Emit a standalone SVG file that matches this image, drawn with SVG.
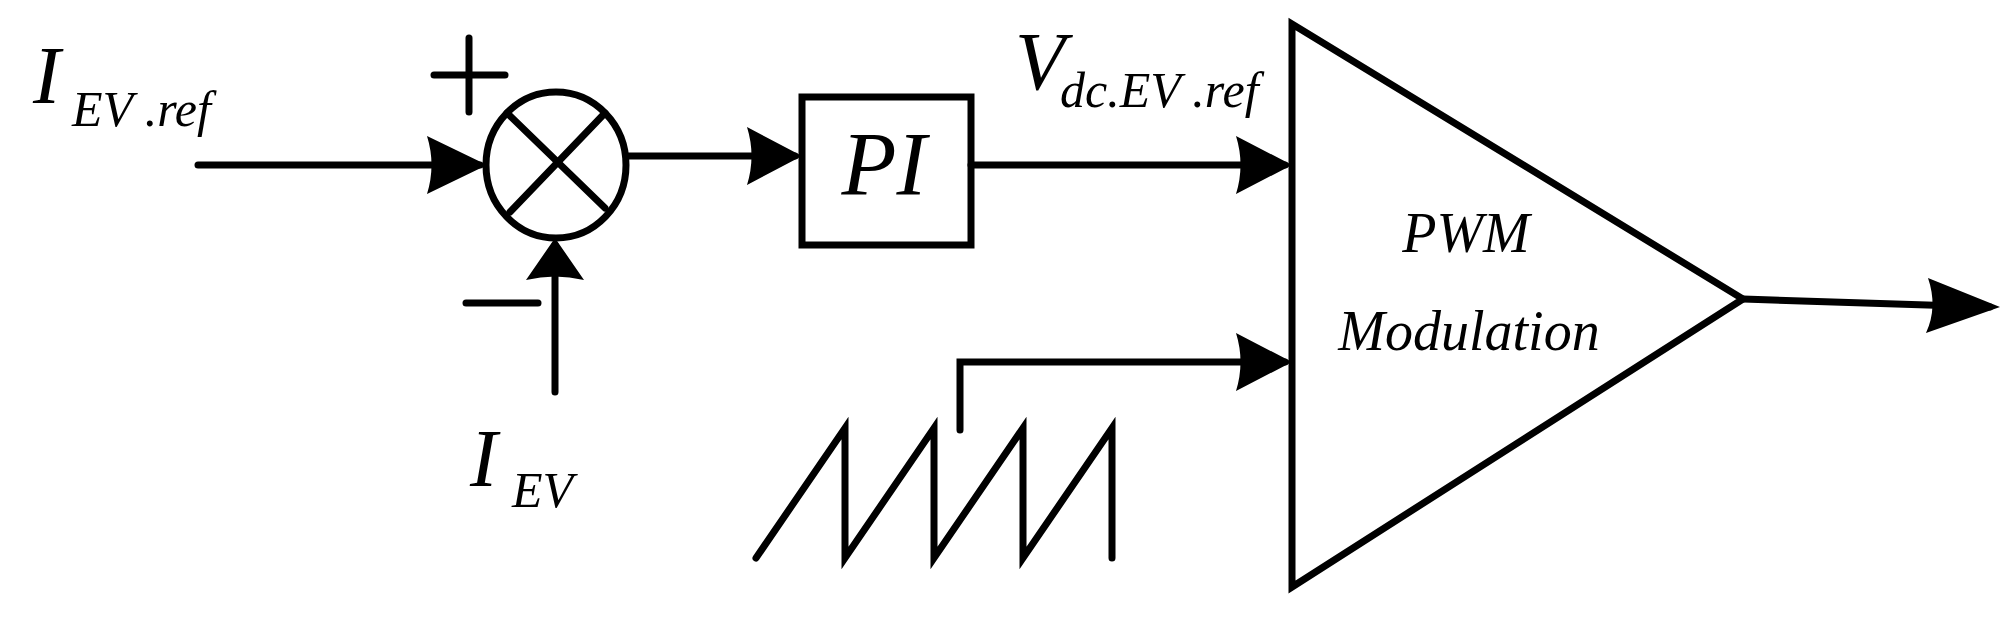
<svg xmlns="http://www.w3.org/2000/svg" width="2015" height="618" viewBox="0 0 2015 618">
<style>
.s{fill:none;stroke:#000;stroke-width:7;stroke-linecap:round;stroke-linejoin:miter}
.a{fill:#000;stroke:none}
.t{font-family:"Liberation Serif",serif;font-style:italic;fill:#000}
</style>
<rect width="2015" height="618" fill="#fff"/>
<g id="connectors">
<line class="s" x1="198" y1="165" x2="480" y2="165"/>
<path class="a" d="M487,165 L427,136 Q436,165 427,194 Z"/>
<line class="s" x1="555" y1="392" x2="555" y2="245"/>
<path class="a" d="M555,238 L526,280 Q555,273 584,280 Z"/>
<line class="s" x1="626" y1="156" x2="795" y2="156"/>
<path class="a" d="M802,156 L747,127 Q756,156 747,185 Z"/>
<line class="s" x1="971" y1="165" x2="1285" y2="165"/>
<path class="a" d="M1292,165 L1236,136 Q1245,165 1236,194 Z"/>
<polyline class="s" points="960,430 960,362 1285,362"/>
<path class="a" d="M1292,362 L1236,333 Q1245,362 1236,391 Z"/>
<line class="s" x1="1743" y1="299" x2="1990" y2="307"/>
<path class="a" d="M2000,307 L1928,278 Q1938,307 1926,333 Z"/>
</g>
<g id="sum">
<ellipse class="s" cx="556" cy="165" rx="70" ry="73"/>
<line class="s" x1="507" y1="113" x2="605" y2="208"/>
<line class="s" x1="605" y1="113" x2="510" y2="212"/>
<line class="s" x1="434" y1="75" x2="505" y2="75"/>
<line class="s" x1="469" y1="38" x2="469" y2="112"/>
<line class="s" x1="466" y1="303" x2="538" y2="303"/>
</g>
<g id="pi">
<rect class="s" x="802" y="97" width="169" height="148"/>
<text class="t" x="884" y="195" font-size="90" text-anchor="middle">PI</text>
</g>
<g id="pwm">
<polygon class="s" points="1292,24 1743,299 1292,587"/>
<text class="t" x="1466" y="252" font-size="56" text-anchor="middle">PWM</text>
<text class="t" x="1469" y="350" font-size="56" text-anchor="middle">Modulation</text>
</g>
<g id="carrier">
<polyline class="s" points="756,558 845,428 845,558 934,428 934,558 1023,428 1023,558 1112,428 1112,558"/>
</g>
<g id="labels">
<text class="t" x="33" y="103" font-size="82">I</text>
<text class="t" x="72" y="126" font-size="50">EV .ref</text>
<text class="t" x="470" y="486" font-size="82">I</text>
<text class="t" x="512" y="507" font-size="50">EV</text>
<text class="t" x="1015" y="89" font-size="82">V</text>
<text class="t" x="1060" y="107" font-size="50">dc.EV .ref</text>
</g>
</svg>
